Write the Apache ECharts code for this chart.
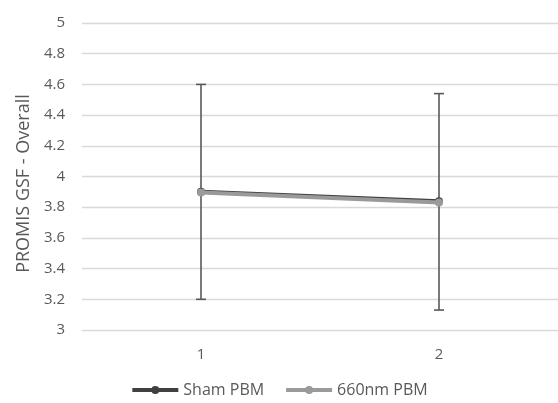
<!DOCTYPE html>
<html>
<head>
<meta charset="utf-8">
<script src="https://cdn.jsdelivr.net/npm/echarts@6/dist/echarts.min.js"></script>
<style>
  html, body { margin: 0; padding: 0; background: #fff; }
  #chart { width: 558px; height: 403px; }
</style>
</head>
<body>
<div id="chart"></div>
<script>
const categories = ['1', '2'];
const shamMean = [3.90, 3.838];
const pbmMean = [3.895, 3.83];
const errLow = [3.20, 3.13];
const errHigh = [4.60, 4.54];

const myChart = echarts.init(document.getElementById('chart'));

// error bars drawn under the lines
const renderErrorBar = (params, api) => {
  const idx = api.value(0);
  const top = api.coord([idx, api.value(2)]);
  const bot = api.coord([idx, api.value(1)]);
  const half = 5;
  const style = { stroke: '#595959', lineWidth: 1.6 };
  return {
    type: 'group',
    children: [
      { type: 'line', shape: { x1: top[0], y1: top[1], x2: bot[0], y2: bot[1] }, style },
      { type: 'line', shape: { x1: top[0] - half, y1: top[1], x2: top[0] + half, y2: top[1] }, style },
      { type: 'line', shape: { x1: bot[0] - half, y1: bot[1], x2: bot[0] + half, y2: bot[1] }, style }
    ]
  };
};

myChart.setOption({
  animation: false,
  textStyle: { fontFamily: 'Open Sans' },
  grid: { left: 82, right: 0, top: 23, bottom: 73 },
  xAxis: {
    type: 'category',
    data: categories,
    boundaryGap: true,
    axisLine: { show: false },
    axisTick: { show: false },
    axisLabel: { color: '#595959', fontSize: 15, margin: 17 }
  },
  yAxis: {
    type: 'value',
    min: 3,
    max: 5,
    interval: 0.2,
    name: 'PROMIS GSF - Overall',
    nameLocation: 'middle',
    nameGap: 48,
    nameTextStyle: { color: '#595959', fontSize: 18, padding: [0, 14, 0, 0] },
    axisLine: { show: false },
    axisTick: { show: false },
    axisLabel: { color: '#595959', fontSize: 15, margin: 17 },
    splitLine: { lineStyle: { color: '#d9d9d9', width: 1.3 } }
  },
  legend: {
    bottom: 0,
    left: 'center',
    itemWidth: 46,
    itemHeight: 10,
    itemGap: 20,
    lineStyle: { width: 4 },
    textStyle: { color: '#595959', fontSize: 16 },
    data: ['Sham PBM', '660nm PBM']
  },
  series: [
    {
      name: 'errors',
      type: 'custom',
      renderItem: renderErrorBar,
      data: categories.map((c, i) => [i, errLow[i], errHigh[i]]),
      z: 1,
      silent: true
    },
    {
      name: 'Sham PBM',
      type: 'line',
      data: shamMean,
      symbol: 'circle',
      symbolSize: 8,
      lineStyle: { color: '#404040', width: 4 },
      itemStyle: { color: '#404040' },
      z: 2
    },
    {
      name: '660nm PBM',
      type: 'line',
      data: pbmMean,
      symbol: 'circle',
      symbolSize: 8,
      lineStyle: { color: '#9a9a9a', width: 4 },
      itemStyle: { color: '#9a9a9a' },
      z: 3
    }
  ]
});
</script>
</body>
</html>
